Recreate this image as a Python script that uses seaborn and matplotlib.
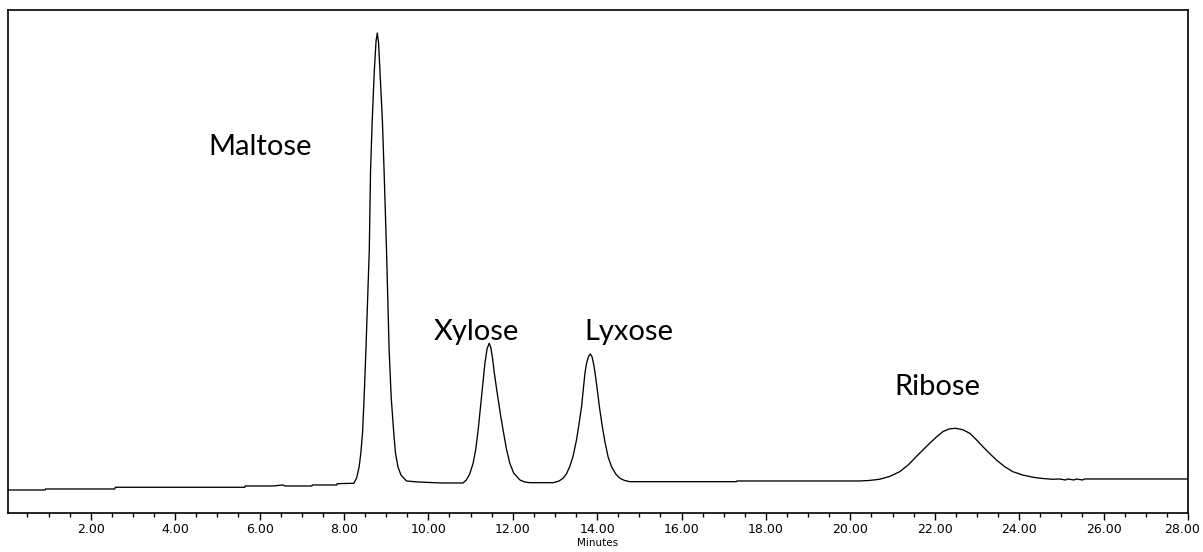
"""Chromatogram of four sugars (Maltose, Xylose, Lyxose, Ribose)."""

import matplotlib.pyplot as plt
import numpy as np
import pandas as pd
import seaborn as sns
from matplotlib.ticker import MultipleLocator

# signal values (arbitrary detector units), time in minutes
baseline_time = [0.04, 0.92, 0.93, 2.57, 2.58, 5.65, 5.66, 6.32, 6.56, 6.6, 7.24, 7.25, 7.83, 7.84, 8.15]
baseline_signal = [23.0, 23.0, 24.0, 24.0, 25.7, 25.7, 27.0, 27.0, 28.0, 27.0, 27.0, 28.0, 28.0, 29.3, 29.6]

maltose_time = [8.235, 8.30, 8.36, 8.40, 8.44, 8.48, 8.52, 8.56, 8.60, 8.63, 8.67, 8.72, 8.76, 8.79,
                8.82, 8.86, 8.91, 8.95, 9.01, 9.07, 9.12, 9.18, 9.22, 9.28, 9.35, 9.48, 9.75, 10.3, 10.82]
maltose_signal = [29.7, 35.0, 46.3, 60.0, 80.0, 118.0, 163.0, 212.0, 263.0, 343.0, 393.0, 443.0, 472.0, 480.0,
                  470.0, 435.0, 393.0, 343.0, 260.0, 163.0, 115.0, 80.0, 60.0, 46.0, 38.0, 32.0, 31.0, 30.0, 30.0]

xylose_time = [10.86, 10.90, 10.98, 11.06, 11.12, 11.18, 11.26, 11.30, 11.34, 11.39, 11.44, 11.48,
               11.52, 11.56, 11.61, 11.66, 11.71, 11.77, 11.85, 11.93, 12.02, 12.17, 12.28, 12.40, 12.96]
xylose_signal = [31.5, 33.0, 39.0, 49.7, 63.0, 83.0, 116.0, 133.0, 149.7, 164.0, 169.7, 165.5,
                 155.0, 141.0, 126.0, 112.0, 98.0, 83.0, 64.0, 49.7, 40.0, 33.0, 31.0, 30.3, 30.3]

lyxose_time = [13.10, 13.19, 13.27, 13.35, 13.43, 13.51, 13.57, 13.63, 13.67, 13.71, 13.75, 13.80,
               13.84, 13.88, 13.92, 13.96, 14.01, 14.06, 14.12, 14.18, 14.26, 14.34, 14.44, 14.54,
               14.65, 14.77, 17.3, 17.31, 20.22]
lyxose_signal = [32.0, 34.7, 39.0, 46.3, 57.0, 73.0, 89.0, 106.3, 123.0, 139.7, 150.0, 157.0,
                 159.0, 156.0, 148.0, 137.0, 121.0, 104.0, 87.0, 72.0, 56.0, 46.3, 39.0, 34.7,
                 32.5, 31.3, 31.3, 32.0, 32.0]

ribose_time = [20.45, 20.69, 20.93, 21.17, 21.37, 21.56, 21.72, 21.88, 22.04, 22.19, 22.34, 22.49,
               22.66, 22.83, 22.98, 23.14, 23.30, 23.46, 23.65, 23.85, 24.08, 24.33, 24.55, 24.80]
ribose_signal = [32.5, 33.7, 36.5, 41.3, 48.0, 56.3, 63.0, 69.7, 76.0, 81.3, 84.0, 84.7,
                 83.3, 79.7, 73.5, 66.3, 59.5, 53.0, 46.5, 41.3, 38.0, 35.7, 34.5, 33.7]

tail_time = [24.95, 25.1, 25.15, 25.3, 25.35, 25.5, 25.55, 25.7, 28.0]
tail_signal = [34.0, 33.0, 34.0, 33.0, 34.0, 33.0, 34.0, 34.0, 34.0]

peak_names = ["Maltose", "Xylose", "Lyxose", "Ribose"]
label_time = [6.01, 11.14, 14.76, 22.06]
label_signal = [358.0, 173.0, 173.0, 118.0]

tick_values = np.arange(2, 29, 2)
tick_labels = [f"{v:.2f}" for v in tick_values]


def main() -> None:
    sns.set_style("white")
    plt.rcParams["font.family"] = ["DejaVu Sans"]

    df = pd.DataFrame(
        {
            "time": baseline_time + maltose_time + xylose_time + lyxose_time + ribose_time + tail_time,
            "signal": baseline_signal + maltose_signal + xylose_signal + lyxose_signal
            + ribose_signal + tail_signal,
        }
    )

    fig = plt.figure(figsize=(12.03, 5.52), dpi=100)
    ax = fig.add_axes([0.0067, 0.0707, 0.9808, 0.9112])
    sns.lineplot(data=df, x="time", y="signal", sort=False, estimator=None,
                 color="black", linewidth=0.95, ax=ax)

    for name, t, s in zip(peak_names, label_time, label_signal):
        ax.text(t, s, name, ha="center", va="baseline", fontsize=21, family="Lato", color="black")

    ax.set_xlim(0.04, 28.0)
    ax.set_ylim(0, 503)
    # last label is drawn by hand a little to the left so it stays on the canvas
    ax.set_xticks(tick_values, tick_labels[:-1] + [""])
    ax.annotate(tick_labels[-1], xy=(tick_values[-1], 0), xycoords=("data", "axes fraction"),
                xytext=(-4, -7), textcoords="offset points", ha="center", va="top",
                fontsize=9, color="black", annotation_clip=False)
    ax.xaxis.set_minor_locator(MultipleLocator(0.5))
    ax.tick_params(axis="x", which="major", direction="out", length=5, width=1,
                   labelsize=9, pad=2, bottom=True, colors="black")
    ax.tick_params(axis="x", which="minor", direction="out", length=3, width=1, bottom=True,
                   colors="black")
    ax.set_yticks([])
    ax.set_xlabel("Minutes", fontsize=7.5, labelpad=2, color="black")
    ax.set_ylabel("")
    for spine in ax.spines.values():
        spine.set_color("black")
        spine.set_linewidth(1.2)

    fig.savefig("out.png", dpi=100)
    plt.close(fig)


if __name__ == "__main__":
    main()
